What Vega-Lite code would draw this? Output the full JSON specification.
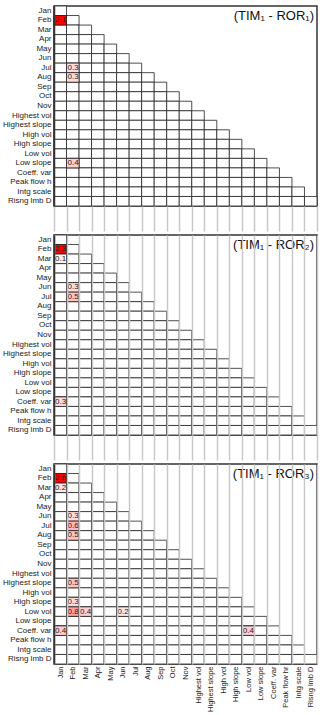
{
  "$schema": "https://vega.github.io/schema/vega-lite/v6.json",
  "padding": {"left": 1, "top": 4, "right": 6, "bottom": 0},
  "background": "white",
  "spacing": 0,
  "config": {
    "font": "Liberation Sans",
    "view": {"stroke": "#333", "strokeWidth": 1.5},
    "axisY": {"labelFontSize": 8, "labelColor": "#222", "ticks": false, "domain": true, "domainColor": "#333", "domainWidth": 1.5, "labelPadding": 3, "grid": false},
    "axisX": {"labelFontSize": 7.5, "labelColor": "#222", "domain": false, "tickBand": "extent", "gridColor": "#c8c8c8", "gridWidth": 1.5, "tickColor": "#c8c8c8", "tickWidth": 1.5}
  },
  "datasets": {
    "grid": [
      {"r": "Jan", "c": ["Jan"]},
      {"r": "Feb", "c": ["Jan","Feb"]},
      {"r": "Mar", "c": ["Jan","Feb","Mar"]},
      {"r": "Apr", "c": ["Jan","Feb","Mar","Apr"]},
      {"r": "May", "c": ["Jan","Feb","Mar","Apr","May"]},
      {"r": "Jun", "c": ["Jan","Feb","Mar","Apr","May","Jun"]},
      {"r": "Jul", "c": ["Jan","Feb","Mar","Apr","May","Jun","Jul"]},
      {"r": "Aug", "c": ["Jan","Feb","Mar","Apr","May","Jun","Jul","Aug"]},
      {"r": "Sep", "c": ["Jan","Feb","Mar","Apr","May","Jun","Jul","Aug","Sep"]},
      {"r": "Oct", "c": ["Jan","Feb","Mar","Apr","May","Jun","Jul","Aug","Sep","Oct"]},
      {"r": "Nov", "c": ["Jan","Feb","Mar","Apr","May","Jun","Jul","Aug","Sep","Oct","Nov"]},
      {"r": "Highest vol", "c": ["Jan","Feb","Mar","Apr","May","Jun","Jul","Aug","Sep","Oct","Nov","Highest vol"]},
      {"r": "Highest slope", "c": ["Jan","Feb","Mar","Apr","May","Jun","Jul","Aug","Sep","Oct","Nov","Highest vol","Highest slope"]},
      {"r": "High vol", "c": ["Jan","Feb","Mar","Apr","May","Jun","Jul","Aug","Sep","Oct","Nov","Highest vol","Highest slope","High vol"]},
      {"r": "High slope", "c": ["Jan","Feb","Mar","Apr","May","Jun","Jul","Aug","Sep","Oct","Nov","Highest vol","Highest slope","High vol","High slope"]},
      {"r": "Low vol", "c": ["Jan","Feb","Mar","Apr","May","Jun","Jul","Aug","Sep","Oct","Nov","Highest vol","Highest slope","High vol","High slope","Low vol"]},
      {"r": "Low slope", "c": ["Jan","Feb","Mar","Apr","May","Jun","Jul","Aug","Sep","Oct","Nov","Highest vol","Highest slope","High vol","High slope","Low vol","Low slope"]},
      {"r": "Coeff. var", "c": ["Jan","Feb","Mar","Apr","May","Jun","Jul","Aug","Sep","Oct","Nov","Highest vol","Highest slope","High vol","High slope","Low vol","Low slope","Coeff. var"]},
      {"r": "Peak flow h", "c": ["Jan","Feb","Mar","Apr","May","Jun","Jul","Aug","Sep","Oct","Nov","Highest vol","Highest slope","High vol","High slope","Low vol","Low slope","Coeff. var","Peak flow hr"]},
      {"r": "Intg scale", "c": ["Jan","Feb","Mar","Apr","May","Jun","Jul","Aug","Sep","Oct","Nov","Highest vol","Highest slope","High vol","High slope","Low vol","Low slope","Coeff. var","Peak flow hr","Intg scale"]},
      {"r": "Risng lmb D", "c": ["Jan","Feb","Mar","Apr","May","Jun","Jul","Aug","Sep","Oct","Nov","Highest vol","Highest slope","High vol","High slope","Low vol","Low slope","Coeff. var","Peak flow hr","Intg scale","Risng lmb D"]}
    ],
    "vals": [
      {"p": 1, "r": "Feb", "c": "Jan", "v": 2.1},
      {"p": 1, "r": "Jul", "c": "Feb", "v": 0.3},
      {"p": 1, "r": "Aug", "c": "Feb", "v": 0.3},
      {"p": 1, "r": "Low slope", "c": "Feb", "v": 0.4},
      {"p": 2, "r": "Feb", "c": "Jan", "v": 2.3},
      {"p": 2, "r": "Mar", "c": "Jan", "v": 0.1},
      {"p": 2, "r": "Jun", "c": "Feb", "v": 0.3},
      {"p": 2, "r": "Jul", "c": "Feb", "v": 0.5},
      {"p": 2, "r": "Coeff. var", "c": "Jan", "v": 0.3},
      {"p": 3, "r": "Feb", "c": "Jan", "v": 2.6},
      {"p": 3, "r": "Mar", "c": "Jan", "v": 0.2},
      {"p": 3, "r": "Jun", "c": "Feb", "v": 0.3},
      {"p": 3, "r": "Jul", "c": "Feb", "v": 0.6},
      {"p": 3, "r": "Aug", "c": "Feb", "v": 0.5},
      {"p": 3, "r": "Highest slope", "c": "Feb", "v": 0.5},
      {"p": 3, "r": "High slope", "c": "Feb", "v": 0.3},
      {"p": 3, "r": "Low vol", "c": "Feb", "v": 0.8},
      {"p": 3, "r": "Low vol", "c": "Mar", "v": 0.4},
      {"p": 3, "r": "Low vol", "c": "Jun", "v": 0.2},
      {"p": 3, "r": "Coeff. var", "c": "Jan", "v": 0.4},
      {"p": 3, "r": "Coeff. var", "c": "Low vol", "v": 0.4}
    ],
    "titles": [
      {"p": 1, "t": "(TIM₁ - ROR₁)"},
      {"p": 2, "t": "(TIM₁ - ROR₂)"},
      {"p": 3, "t": "(TIM₁ - ROR₃)"}
    ]
  },
  "vconcat": [
    {
      "width": 263, "height": 200,
      "layer": [
        {
          "data": {"name": "grid"},
          "transform": [{"flatten": ["c"]}],
          "mark": {"type": "rect", "fill": "white", "stroke": "#222", "strokeWidth": 0.8},
          "encoding": {
            "x": {"field": "c", "type": "nominal", "title": null, "axis": {"orient": "bottom", "grid": false, "ticks": true, "tickSize": 25, "labels": false, "minExtent": 25, "maxExtent": 25}, "scale": {"domain": ["Jan","Feb","Mar","Apr","May","Jun","Jul","Aug","Sep","Oct","Nov","Highest vol","Highest slope","High vol","High slope","Low vol","Low slope","Coeff. var","Peak flow hr","Intg scale","Risng lmb D"], "paddingInner": 0, "paddingOuter": 0}},
            "y": {"field": "r", "type": "nominal", "title": null, "scale": {"domain": ["Jan","Feb","Mar","Apr","May","Jun","Jul","Aug","Sep","Oct","Nov","Highest vol","Highest slope","High vol","High slope","Low vol","Low slope","Coeff. var","Peak flow h","Intg scale","Risng lmb D"], "paddingInner": 0, "paddingOuter": 0}}
          }
        },
        {
          "data": {"name": "vals"},
          "transform": [{"filter": "datum.p == 1"}],
          "mark": {"type": "rect", "stroke": "#222", "strokeWidth": 0.8},
          "encoding": {
            "x": {"field": "c", "type": "nominal", "title": null},
            "y": {"field": "r", "type": "nominal", "title": null},
            "fill": {"field": "v", "type": "quantitative", "legend": null, "scale": {"domain": [0, 2.1], "range": ["#ffffff", "#ff0000"], "interpolate": "rgb", "clamp": true}}
          }
        },
        {
          "data": {"name": "vals"},
          "transform": [{"filter": "datum.p == 1"}],
          "mark": {"type": "text", "align": "left", "baseline": "middle", "dx": 1, "fontSize": 8, "color": "#222"},
          "encoding": {
            "x": {"field": "c", "type": "nominal", "title": null, "bandPosition": 0},
            "y": {"field": "r", "type": "nominal", "title": null},
            "text": {"field": "v", "type": "quantitative", "format": ".1f"}
          }
        },
        {
          "data": {"name": "titles"},
          "transform": [{"filter": "datum.p == 1"}],
          "mark": {"type": "text", "align": "right", "baseline": "middle", "dx": -3, "fontSize": 13, "color": "#111"},
          "encoding": {
            "x": {"datum": "Risng lmb D", "type": "nominal", "bandPosition": 1},
            "y": {"datum": "Feb", "type": "nominal", "bandPosition": 0},
            "text": {"field": "t", "type": "nominal"}
          }
        }
      ]
    },
    {
      "width": 263, "height": 200,
      "layer": [
        {
          "data": {"name": "grid"},
          "transform": [{"flatten": ["c"]}],
          "mark": {"type": "rect", "fill": "white", "stroke": "#222", "strokeWidth": 0.8},
          "encoding": {
            "x": {"field": "c", "type": "nominal", "title": null, "axis": {"orient": "bottom", "grid": true, "ticks": true, "tickSize": 25, "labels": false, "minExtent": 25, "maxExtent": 25}, "scale": {"domain": ["Jan","Feb","Mar","Apr","May","Jun","Jul","Aug","Sep","Oct","Nov","Highest vol","Highest slope","High vol","High slope","Low vol","Low slope","Coeff. var","Peak flow hr","Intg scale","Risng lmb D"], "paddingInner": 0, "paddingOuter": 0}},
            "y": {"field": "r", "type": "nominal", "title": null, "scale": {"domain": ["Jan","Feb","Mar","Apr","May","Jun","Jul","Aug","Sep","Oct","Nov","Highest vol","Highest slope","High vol","High slope","Low vol","Low slope","Coeff. var","Peak flow h","Intg scale","Risng lmb D"], "paddingInner": 0, "paddingOuter": 0}}
          }
        },
        {
          "data": {"name": "vals"},
          "transform": [{"filter": "datum.p == 2"}],
          "mark": {"type": "rect", "stroke": "#222", "strokeWidth": 0.8},
          "encoding": {
            "x": {"field": "c", "type": "nominal", "title": null},
            "y": {"field": "r", "type": "nominal", "title": null},
            "fill": {"field": "v", "type": "quantitative", "legend": null, "scale": {"domain": [0, 2.1], "range": ["#ffffff", "#ff0000"], "interpolate": "rgb", "clamp": true}}
          }
        },
        {
          "data": {"name": "vals"},
          "transform": [{"filter": "datum.p == 2"}],
          "mark": {"type": "text", "align": "left", "baseline": "middle", "dx": 1, "fontSize": 8, "color": "#222"},
          "encoding": {
            "x": {"field": "c", "type": "nominal", "title": null, "bandPosition": 0},
            "y": {"field": "r", "type": "nominal", "title": null},
            "text": {"field": "v", "type": "quantitative", "format": ".1f"}
          }
        },
        {
          "data": {"name": "titles"},
          "transform": [{"filter": "datum.p == 2"}],
          "mark": {"type": "text", "align": "right", "baseline": "middle", "dx": -3, "fontSize": 13, "color": "#111"},
          "encoding": {
            "x": {"datum": "Risng lmb D", "type": "nominal", "bandPosition": 1},
            "y": {"datum": "Feb", "type": "nominal", "bandPosition": 0},
            "text": {"field": "t", "type": "nominal"}
          }
        }
      ]
    },
    {
      "width": 263, "height": 200,
      "layer": [
        {
          "data": {"name": "grid"},
          "transform": [{"flatten": ["c"]}],
          "mark": {"type": "rect", "fill": "white", "stroke": "#222", "strokeWidth": 0.8},
          "encoding": {
            "x": {"field": "c", "type": "nominal", "title": null, "axis": {"orient": "bottom", "grid": true, "ticks": false, "labels": true, "labelAngle": 270, "labelPadding": 2}, "scale": {"domain": ["Jan","Feb","Mar","Apr","May","Jun","Jul","Aug","Sep","Oct","Nov","Highest vol","Highest slope","High vol","High slope","Low vol","Low slope","Coeff. var","Peak flow hr","Intg scale","Risng lmb D"], "paddingInner": 0, "paddingOuter": 0}},
            "y": {"field": "r", "type": "nominal", "title": null, "scale": {"domain": ["Jan","Feb","Mar","Apr","May","Jun","Jul","Aug","Sep","Oct","Nov","Highest vol","Highest slope","High vol","High slope","Low vol","Low slope","Coeff. var","Peak flow h","Intg scale","Risng lmb D"], "paddingInner": 0, "paddingOuter": 0}}
          }
        },
        {
          "data": {"name": "vals"},
          "transform": [{"filter": "datum.p == 3"}],
          "mark": {"type": "rect", "stroke": "#222", "strokeWidth": 0.8},
          "encoding": {
            "x": {"field": "c", "type": "nominal", "title": null},
            "y": {"field": "r", "type": "nominal", "title": null},
            "fill": {"field": "v", "type": "quantitative", "legend": null, "scale": {"domain": [0, 2.1], "range": ["#ffffff", "#ff0000"], "interpolate": "rgb", "clamp": true}}
          }
        },
        {
          "data": {"name": "vals"},
          "transform": [{"filter": "datum.p == 3"}],
          "mark": {"type": "text", "align": "left", "baseline": "middle", "dx": 1, "fontSize": 8, "color": "#222"},
          "encoding": {
            "x": {"field": "c", "type": "nominal", "title": null, "bandPosition": 0},
            "y": {"field": "r", "type": "nominal", "title": null},
            "text": {"field": "v", "type": "quantitative", "format": ".1f"}
          }
        },
        {
          "data": {"name": "titles"},
          "transform": [{"filter": "datum.p == 3"}],
          "mark": {"type": "text", "align": "right", "baseline": "middle", "dx": -3, "fontSize": 13, "color": "#111"},
          "encoding": {
            "x": {"datum": "Risng lmb D", "type": "nominal", "bandPosition": 1},
            "y": {"datum": "Feb", "type": "nominal", "bandPosition": 0},
            "text": {"field": "t", "type": "nominal"}
          }
        }
      ]
    }
  ]
}
